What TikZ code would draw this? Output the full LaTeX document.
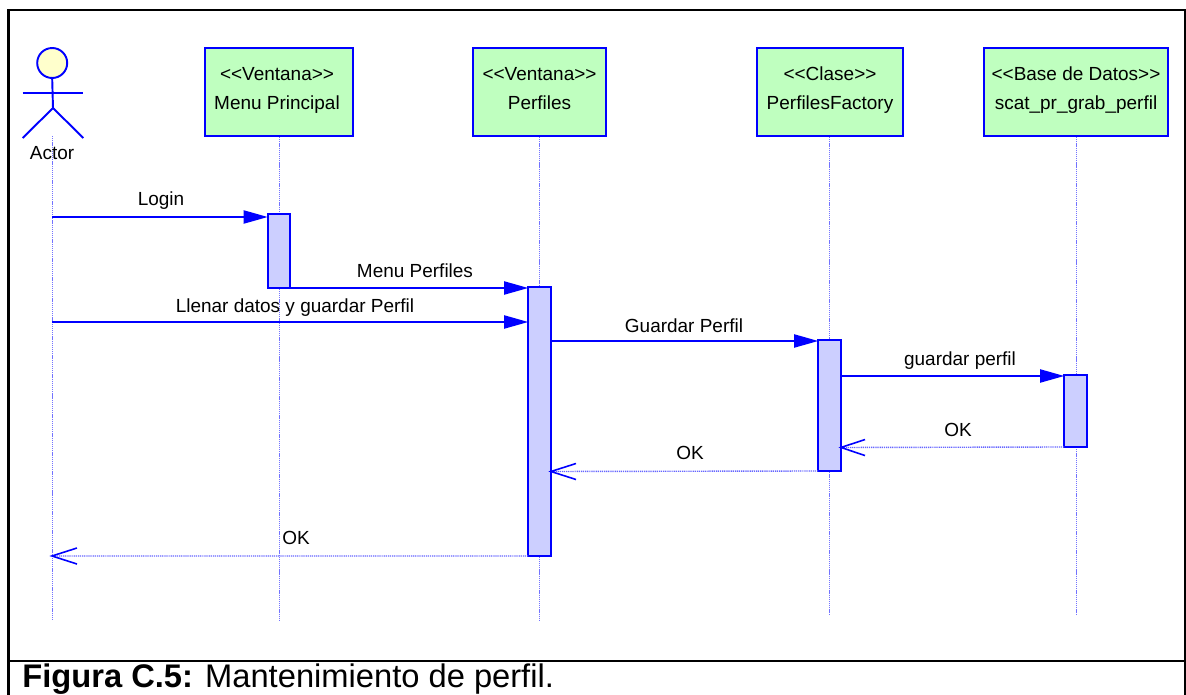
\documentclass[tikz,border=0pt]{standalone}
\usepackage{fontspec}
\setmainfont{Liberation Sans}
\usepackage{tikz}
\usetikzlibrary{arrows.meta}
\definecolor{objfill}{RGB}{191,255,191}
\definecolor{barfill}{RGB}{204,207,255}
\definecolor{headfill}{RGB}{255,255,204}
\definecolor{umlblue}{RGB}{0,0,255}

\begin{document}
\begin{tikzpicture}[scale=0.2]
\tikzstyle{every node}+=[inner sep=0pt]
\tikzstyle{obj}=[draw=umlblue,fill=objfill,line width=1.1pt,minimum height=1.76cm]
\tikzstyle{bar}=[draw=umlblue,fill=barfill,line width=1.1pt,minimum width=0.45cm,outer sep=0pt]
\tikzstyle{life}=[umlblue!55,line width=0.5pt,dash pattern=on 0.7pt off 0.5pt]
\tikzstyle{msg}=[umlblue,line width=1.1pt,-{Triangle[length=0.48cm,width=0.26cm]}]
\tikzstyle{ret}=[umlblue!60,line width=0.8pt,dash pattern=on 0.7pt off 0.5pt]
\tikzstyle{barb}=[umlblue,line width=0.9pt]
\tikzstyle{lbl}=[anchor=base,font=\fontsize{10.8}{12}\selectfont]
\useasboundingbox (0,0) rectangle (118.6,-69.5);
% marco
\draw [black,line width=1.2pt] (0.85,-69.5) -- (0.85,-1) -- (118.5,-1) -- (118.5,-69.5);
\draw [black,line width=1.2pt] (0.85,-66.1) -- (118.5,-66.1);
\node [anchor=base west,font=\fontsize{18.6}{20}\selectfont] (caption) at (2.2,-68.7) {\textbf{Figura C.5:} Mantenimiento de perfil.};
% actor
\node [circle,draw=umlblue,fill=headfill,line width=1.1pt,minimum size=0.6cm] (head) at (5.22,-6.3) {};
\coordinate (armL) at (2.27,-9.3);
\coordinate (armR) at (8.33,-9.3);
\coordinate (hip) at (5.3,-10.8);
\coordinate (legL) at (2.27,-13.8);
\coordinate (legR) at (8.33,-13.8);
\draw [umlblue,line width=1.1pt] (head.south) -- (hip);
\draw [umlblue,line width=1.1pt] (armL) -- (armR);
\draw [umlblue,line width=1.1pt] (legL) -- (hip) -- (legR);
% objetos
\node [obj,minimum width=2.96cm] (menu) at (27.9,-9.2) {};
\node [obj,minimum width=2.66cm] (perfiles) at (53.95,-9.2) {};
\node [obj,minimum width=2.92cm] (factory) at (83.02,-9.2) {};
\node [obj,minimum width=3.68cm] (bd) at (107.6,-9.2) {};
\node [lbl] (menuTipo) at (27.7,-8) {<{}<Ventana>{}>};
\node [lbl] (menuName) at (27.7,-10.9) {Menu Principal};
\node [lbl] (perfilesTipo) at (53.95,-8) {<{}<Ventana>{}>};
\node [lbl] (perfilesName) at (53.95,-10.9) {Perfiles};
\node [lbl] (factoryTipo) at (83,-8) {<{}<Clase>{}>};
\node [lbl] (factoryName) at (83,-10.9) {PerfilesFactory};
\node [lbl] (bdTipo) at (107.6,-8) {<{}<Base de Datos>{}>};
\node [lbl] (bdName) at (107.6,-10.9) {scat\_pr\_grab\_perfil};
% lineas de vida
\coordinate (actorTop) at (5.2,-13.6);
\coordinate (actorEnd) at (5.2,-62);
\coordinate (menuEnd) at (27.9,-62);
\coordinate (perfilesEnd) at (53.95,-62);
\coordinate (factoryEnd) at (82.95,-61.5);
\coordinate (bdEnd) at (107.6,-61.5);
\draw [life] (actorTop) -- (actorEnd);
\draw [life] (menu.south) -- (menuEnd);
\draw [life] (perfiles.south) -- (perfilesEnd);
\draw [life] (factory.south -| factoryEnd) -- (factoryEnd);
\draw [life] (bd.south) -- (bdEnd);
\node [lbl] (actor) at (5.2,-15.9) {Actor};
% activaciones
\node [bar,minimum height=1.48cm] (barMenu) at (27.9,-25.1) {};
\node [bar,minimum height=5.38cm] (barPerfiles) at (53.95,-42.15) {};
\node [bar,minimum height=2.62cm] (barFactory) at (82.95,-40.55) {};
\node [bar,minimum height=1.44cm] (barBd) at (107.55,-41.1) {};
% mensajes
\coordinate (loginFrom) at (5.2,-21.7);
\coordinate (llenarFrom) at (5.2,-32.2);
\coordinate (guardarFrom) at (55.1,-34.1);
\coordinate (grabFrom) at (84.1,-37.6);
\draw [msg] (loginFrom) -- (barMenu.west |- loginFrom);
\draw [msg] (barMenu.south east) -- (barPerfiles.west |- barMenu.south east);
\draw [msg] (llenarFrom) -- (barPerfiles.west |- llenarFrom);
\draw [msg] (guardarFrom) -- (barFactory.west |- guardarFrom);
\draw [msg] (grabFrom) -- (barBd.west |- grabFrom);
\node [lbl] (l1) at (16.1,-20.5) {Login};
\node [lbl] (l2) at (41.5,-27.7) {Menu Perfiles};
\node [lbl] (l3) at (29.5,-31.2) {Llenar datos y guardar Perfil};
\node [lbl] (l4) at (68.4,-33.2) {Guardar Perfil};
\node [lbl] (l5) at (96,-36.5) {guardar perfil};
\node [lbl] (l6) at (95.8,-43.6) {OK};
\node [lbl] (l7) at (69,-45.9) {OK};
\node [lbl] (l8) at (29.6,-54.4) {OK};
% retornos
\coordinate (actorOk) at (5.2,-55.6);
\coordinate (factoryOk) at (84.1,-44.75);
\coordinate (perfilesOk) at (55.1,-47.15);
\draw [ret] (barBd.south west) -- (factoryOk);
\draw [ret] (barFactory.south west) -- (perfilesOk);
\draw [ret] (barPerfiles.south west) -- (actorOk);
\draw [barb] (86.5,-43.95) -- (factoryOk) -- (86.5,-45.55);
\draw [barb] (57.6,-46.35) -- (perfilesOk) -- (57.6,-47.95);
\draw [barb] (7.7,-54.8) -- (actorOk) -- (7.7,-56.4);
\end{tikzpicture}
\end{document}
